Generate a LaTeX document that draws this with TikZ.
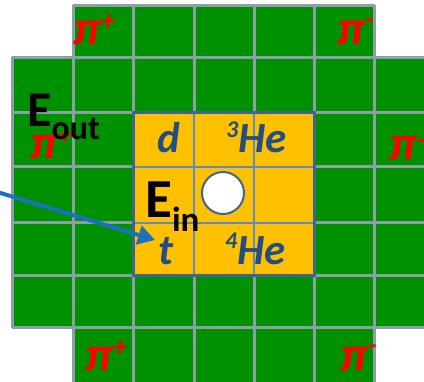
\documentclass[tikz,border=0pt]{standalone}
\usepackage{fontspec}
\setmainfont{Carlito}
\usetikzlibrary{arrows.meta}
\definecolor{cgreen}{RGB}{0,145,0}
\definecolor{cgrid}{RGB}{140,158,166}
\definecolor{corange}{RGB}{255,192,0}
\definecolor{cinner}{RGB}{91,139,200}
\definecolor{cborder}{RGB}{62,100,150}
\definecolor{ctext}{RGB}{34,78,130}
\definecolor{carrow}{RGB}{28,112,190}
\newcommand\supx[3]{\raisebox{#2pt}{\fontsize{#1}{#1}\selectfont #3}}
\begin{document}
\begin{tikzpicture}[x=1pt,y=-1pt,
  gridline/.style={cgrid,line width=3pt},
  innerline/.style={cinner,line width=2.5pt},
  pilbl/.style={inner sep=0pt,anchor=base west,text=red,font=\fontsize{48}{48}\selectfont\bfseries\itshape},
  nuc/.style={inner sep=0pt,anchor=base west,text=ctext,font=\fontsize{43}{43}\selectfont\bfseries\itshape},
  elbl/.style={inner sep=0pt,anchor=base west,text=black,font=\bfseries}]
\useasboundingbox (0,0) rectangle (424,382);
\begin{scope}
\clip (0,0) rectangle (424,382);
% green area
\fill[cgreen] (73,6) -- (374,6) -- (374,58) -- (440,58) -- (440,328) -- (374,328) -- (374,390) -- (73,390) -- (73,328) -- (12,328) -- (12,58) -- (73,58) -- cycle;
% grid lines
\foreach \y in {58,113,167,223,276,328} \draw[gridline] (12,\y) -- (440,\y);
\foreach \x in {73,133,194,254,314,374} \draw[gridline] (\x,6) -- (\x,390);
\draw[gridline,line join=round] (374,58) -- (374,6) -- (73,6) -- (73,58) -- (12,58) -- (12,328) -- (73,328) -- (73,390);
\draw[gridline] (374,390) -- (374,328) -- (440,328);
% orange target
\fill[corange] (133,113) rectangle (314,276);
\foreach \y in {167,223} \draw[innerline] (133,\y) -- (314,\y);
\foreach \x in {194,254} \draw[innerline] (\x,113) -- (\x,276);
\draw[cborder,line width=3pt] (133,113) rectangle (314,276);
% centre hole
\node[circle,draw=cborder,fill=white,line width=2pt,minimum size=42pt,inner sep=0pt] (hole) at (223,193) {};
% pions
\node[pilbl] (pitl) at (73,45) {π\supx{29}{14}{+}};
\node[pilbl] (pitr) at (337,45) {π\supx{29}{16}{-}};
\node[pilbl] (piml) at (30,159) {π\supx{29}{14}{+}};
\node[pilbl] (pimr) at (389,160) {π\supx{29}{10}{-}};
\node[pilbl] (pibl) at (85,371) {π\supx{29}{14}{+}};
\node[pilbl] (pibr) at (340,371) {π\supx{29}{16}{-}};
% nuclei
\node[nuc] (d) at (157,153) {d};
\node[nuc] (he3) at (226,153) {\supx{24}{15}{3}He};
\node[nuc] (t) at (158,265) {t};
\node[nuc] (he4) at (225,265) {\supx{24}{16}{4}He};
% energies
\node[elbl] (eout) at (27,127) {\fontsize{50}{50}\selectfont E\raisebox{-13pt}{\fontsize{34}{34}\selectfont out}};
\node[elbl] (ein) at (145,218) {\fontsize{55}{55}\selectfont E\raisebox{-14pt}{\fontsize{35}{35}\selectfont in}};
% arrow
\coordinate (astart) at (-6,191);
\coordinate (aend) at (155,240);
\draw[carrow,line width=4pt,-{Triangle[length=17pt,width=19pt]}] (astart) -- (aend);
\end{scope}
\end{tikzpicture}
\end{document}
